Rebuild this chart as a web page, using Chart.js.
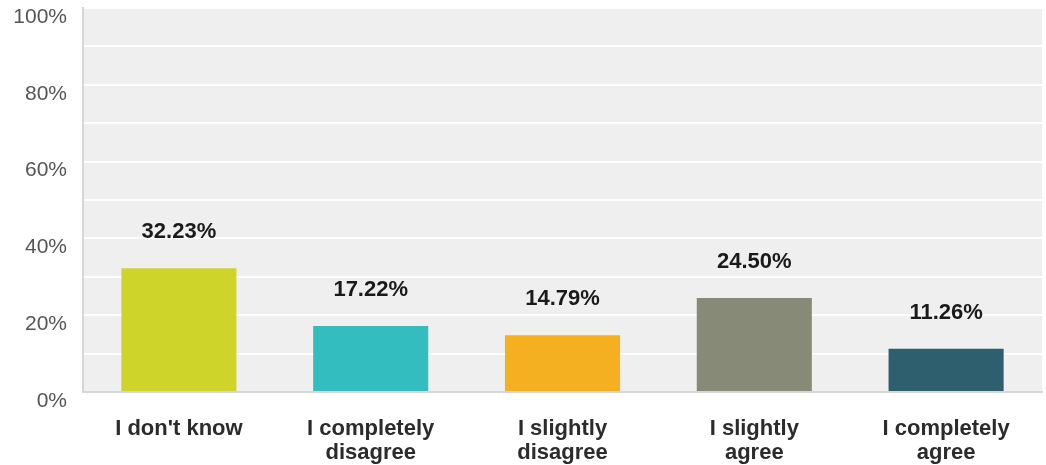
<!DOCTYPE html>
<html>
<head>
<meta charset="utf-8">
<script src="https://cdn.jsdelivr.net/npm/chart.js@4/dist/chart.umd.min.js"></script>
<style>
  html, body { margin: 0; padding: 0; background: #fff; }
  #wrap { width: 1046px; height: 465px; }
</style>
</head>
<body>
<div id="wrap"><canvas id="answers"></canvas></div>
<script>
// Answer categories and the share of respondents (%)
const categories = [
  ["I don't know"],
  ["I completely", "disagree"],
  ["I slightly", "disagree"],
  ["I slightly", "agree"],
  ["I completely", "agree"]
];
const shares = [32.23, 17.22, 14.79, 24.50, 11.26];
const barColors = ["#cfd42a", "#33bdbf", "#f5b021", "#888a78", "#2e5f6e"];
const yTicks = [0, 20, 40, 60, 80, 100];

const fontFamily = "'Liberation Sans', Arial, sans-serif";

// gray plot background
const plotBg = {
  id: "plotBg",
  beforeDraw(chart) {
    const { ctx, chartArea: a } = chart;
    ctx.save();
    ctx.fillStyle = "#efefef";
    ctx.fillRect(a.left, a.top, a.right - a.left, a.bottom - a.top);
    ctx.restore();
  }
};

// value labels above each bar
const valueLabels = {
  id: "valueLabels",
  afterDatasetsDraw(chart) {
    const ctx = chart.ctx;
    const meta = chart.getDatasetMeta(0);
    ctx.save();
    ctx.font = "bold 22px " + fontFamily;
    ctx.fillStyle = "#1a1a1a";
    ctx.textAlign = "center";
    ctx.textBaseline = "middle";
    meta.data.forEach((bar, i) => {
      ctx.fillText(shares[i].toFixed(2) + "%", bar.x, bar.y - 36);
    });
    ctx.restore();
  }
};

new Chart(document.getElementById("answers"), {
  type: "bar",
  data: {
    labels: categories,
    datasets: [{
      data: shares,
      backgroundColor: barColors,
      borderWidth: 0,
      barPercentage: 0.6,
      categoryPercentage: 1
    }]
  },
  options: {
    responsive: true,
    maintainAspectRatio: false,
    animation: false,
    layout: { padding: { top: 8, right: 4, left: 0, bottom: 0 } },
    plugins: { legend: { display: false }, tooltip: { enabled: false } },
    scales: {
      x: {
        grid: { display: false, drawTicks: false },
        border: { color: "#d6d6d6", width: 2 },
        ticks: {
          color: "#2b2b2b",
          font: { family: fontFamily, size: 22, weight: "bold", lineHeight: 1.1 },
          padding: 25,
          maxRotation: 0
        },
        afterFit(scale) {
          scale.height = 73;
          scale.paddingLeft = 0;
          scale.paddingRight = 0;
        }
      },
      y: {
        min: 0,
        max: 100,
        grid: { color: "#ffffff", lineWidth: 2, drawTicks: false },
        border: { color: "#d6d6d6", width: 2 },
        ticks: {
          stepSize: 10,
          color: "#555",
          font: { family: fontFamily, size: 21 },
          padding: 16,
          labelOffset: 9,
          callback: v => yTicks.includes(v) ? v + "%" : ""
        },
        afterFit(scale) {
          scale.width = 83;
          scale.paddingTop = 0;
          scale.paddingBottom = 0;
        }
      }
    }
  },
  plugins: [plotBg, valueLabels]
});
</script>
</body>
</html>
